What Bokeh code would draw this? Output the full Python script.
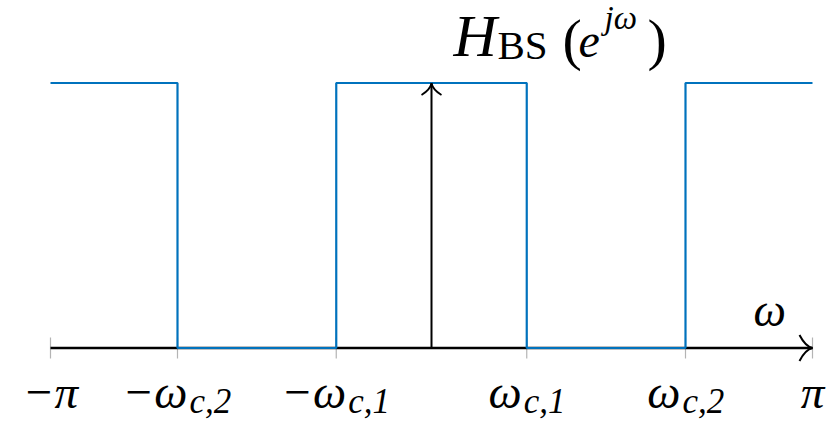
import numpy as np
from bokeh.plotting import figure
from bokeh.models import Range1d
from bokeh.core.properties import value
from bokeh.embed import file_html
from bokeh.resources import INLINE

PI = np.pi

# Ideal band-stop response: band edges (rad) and the gain inside each band
edges = [-PI, -2 * PI / 3, -PI / 4, PI / 4, 2 * PI / 3, PI]
band_gain = [1, 0, 1, 0, 1]

# Frequency-axis tick labels: main symbol and its subscript
tick_pos = [-PI, -2 * PI / 3, -PI / 4, PI / 4, 2 * PI / 3, PI]
tick_main = ["−π", "−ω", "−ω", "ω", "ω", "π"]
tick_sub = ["", "c,2", "c,1", "c,1", "c,2", ""]

W, H = 829, 422
# pixel placement of the drawing area
X0_PX, X1_PX = 50.0, 812.0      # -pi .. pi
Y0_PX, Y1_PX = 347.5, 82.5      # gain 0 .. 1

xpp = (PI - (-PI)) / (X1_PX - X0_PX)
ypp = 1.0 / (Y0_PX - Y1_PX)
x_start = -PI - X0_PX * xpp
x_end = PI + (W - X1_PX) * xpp
y_start = -(H - Y0_PX) * ypp
y_end = 1 + Y1_PX * ypp

p = figure(width=W, height=H, output_backend="svg", toolbar_location=None,
           x_range=Range1d(x_start, x_end), y_range=Range1d(y_start, y_end),
           min_border=0, min_border_left=0, min_border_right=0,
           min_border_top=0, min_border_bottom=0)
p.axis.visible = False
p.grid.visible = False
p.outline_line_color = None
p.background_fill_color = "white"
p.border_fill_color = "white"

BLACK = "#000000"
BLUE = "#0072BD"
SERIF = value("Liberation Serif")


def put_text(x, y, txt, size, style="italic", align="left", xo=0, base=0):
    """Place text so that its baseline sits `base` px below the anchor."""
    # the svg text box puts the alphabetic baseline ~0.37 em low; compensate
    yo = base - 0.37 * size
    p.text(x=[x], y=[y], text=[txt], text_font=SERIF, text_font_style=style,
           text_font_size=f"{size}px", text_align=align,
           text_baseline="alphabetic", x_offset=xo, y_offset=yo,
           text_color=BLACK)


# tick marks
p.scatter(x=tick_pos, y=[0] * len(tick_pos), marker="dash", size=21,
          angle=PI / 2, line_color="#b4b4b4", line_width=1.2)

# frequency axis and gain axis
p.line(x=[edges[0], edges[-1]], y=[0, 0], line_color=BLACK, line_width=2.4)
p.line(x=[0, 0], y=[0, 1], line_color=BLACK, line_width=2.0)


def to_head(tip_x, tip_y, dirx, diry, length=12, half=10.5, lw=1.8):
    """TikZ-style 'to' arrow head drawn with two quadratic curves."""
    xs0, ys0, xs1, ys1, cxs, cys = [], [], [], [], [], []
    for s in (1, -1):
        bx, by = -dirx * length, -diry * length
        px_, py_ = -diry * half * s, dirx * half * s
        ex, ey = bx + px_, by + py_
        cx, cy = 0.55 * bx + 0.12 * px_, 0.55 * by + 0.12 * py_
        xs0.append(tip_x); ys0.append(tip_y)
        xs1.append(tip_x + ex * xpp); ys1.append(tip_y + ey * ypp)
        cxs.append(tip_x + cx * xpp); cys.append(tip_y + cy * ypp)
    p.quadratic(x0=xs0, y0=ys0, x1=xs1, y1=ys1, cx=cxs, cy=cys,
                line_color=BLACK, line_width=lw)


# band-stop magnitude as a step trace
sx, sy = [], []
for i, g in enumerate(band_gain):
    sx += [edges[i], edges[i + 1]]
    sy += [g, g]
p.line(x=sx, y=sy, line_color=BLUE, line_width=2.2)

to_head(edges[-1], 0, 1, 0, length=13, half=13, lw=2.0)
to_head(0, 1, 0, 1, length=12, half=10, lw=1.8)

# tick labels
for xv, main, sub in zip(tick_pos, tick_main, tick_sub):
    if sub == "":
        put_text(xv, 0, main, 47, align="center", base=61.5)
    else:
        off = 10 if main.startswith("−") else -5
        put_text(xv, 0, main, 47, align="right", xo=off, base=61.5)
        put_text(xv, 0, sub, 35, align="left", xo=off + 2, base=66)

# frequency-axis label
put_text(edges[-1], 0, "ω", 46, xo=-59, base=-20.5)

# response label H_BS(e^{jω}) placed near the gain-axis tip
title_parts = [
    ("H", "italic", 60, 22, -24.5),
    ("BS", "normal", 41, 66, -22.5),
    ("(", "normal", 58, 131, -22),
    ("e", "italic", 48, 147, -24.5),
    ("jω", "italic", 33, 173, -52.5),
    (")", "normal", 58, 216, -22),
]
for txt, style, size, xo, base in title_parts:
    put_text(0, 1, txt, size, style=style, xo=xo, base=base)

open("out.html", "w").write(file_html(p, INLINE))
